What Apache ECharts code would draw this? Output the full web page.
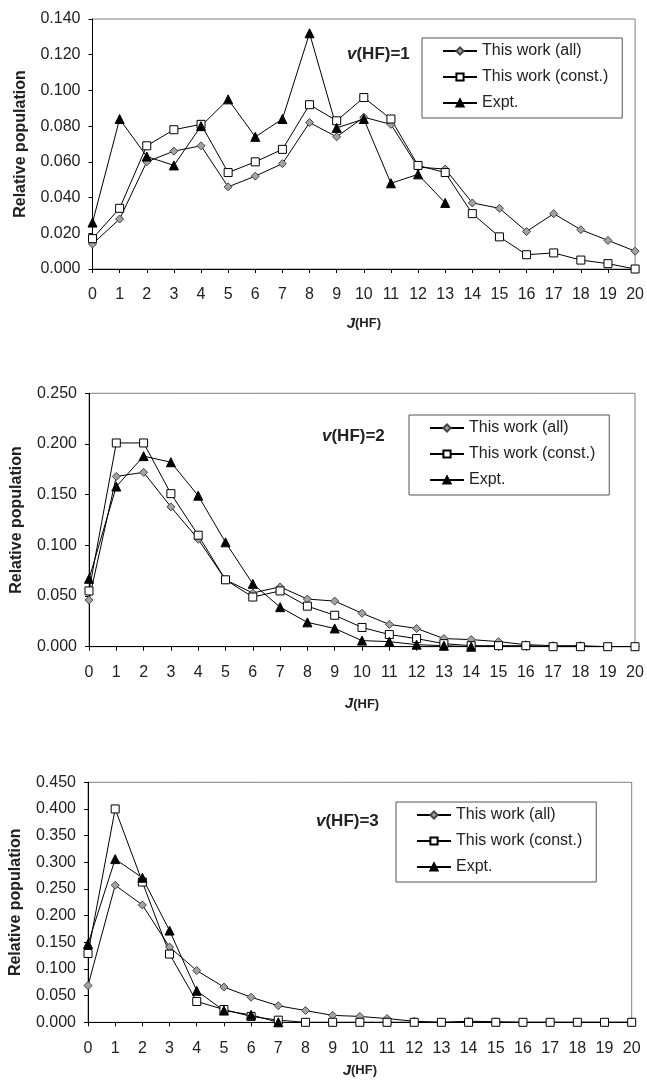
<!DOCTYPE html>
<html>
<head>
<meta charset="utf-8">
<script src="https://cdn.jsdelivr.net/npm/echarts@6/dist/echarts.min.js"></script>
<style>
  html, body { margin: 0; padding: 0; background: #fff; }
  #chart { width: 647px; height: 1082px; }
</style>
</head>
<body>
<div id="chart"></div>
<script>
// Rotational quantum number J(HF)
const jLevels = ['0','1','2','3','4','5','6','7','8','9','10','11','12','13','14','15','16','17','18','19','20'];

// Relative populations, v(HF)=1
const v1All   = [0.014, 0.028, 0.060, 0.066, 0.069, 0.046, 0.052, 0.059, 0.082, 0.074, 0.085, 0.081, 0.057, 0.056, 0.037, 0.034, 0.021, 0.031, 0.022, 0.016, 0.010];
const v1Const = [0.017, 0.034, 0.069, 0.078, 0.081, 0.054, 0.060, 0.067, 0.092, 0.083, 0.096, 0.084, 0.058, 0.054, 0.031, 0.018, 0.008, 0.009, 0.005, 0.003, 0.000];
const v1Expt  = [0.026, 0.084, 0.063, 0.058, 0.080, 0.095, 0.074, 0.084, 0.132, 0.079, 0.084, 0.048, 0.053, 0.037];

// Relative populations, v(HF)=2
const v2All   = [0.046, 0.168, 0.172, 0.138, 0.106, 0.066, 0.053, 0.059, 0.047, 0.045, 0.033, 0.022, 0.018, 0.008, 0.007, 0.005, 0.002, 0.001, 0.001, 0.000, 0.000];
const v2Const = [0.055, 0.201, 0.201, 0.151, 0.110, 0.066, 0.049, 0.055, 0.040, 0.031, 0.019, 0.012, 0.008, 0.003, 0.001, 0.001, 0.001, 0.000, 0.000, 0.000, 0.000];
const v2Expt  = [0.067, 0.158, 0.188, 0.182, 0.149, 0.103, 0.062, 0.039, 0.024, 0.018, 0.006, 0.005, 0.002, 0.001, 0.000];

// Relative populations, v(HF)=3
const v3All   = [0.069, 0.257, 0.220, 0.141, 0.097, 0.066, 0.047, 0.031, 0.022, 0.013, 0.011, 0.007, 0.002, 0.000, 0.002, 0.001, 0.000, 0.000, 0.000, 0.000, 0.000];
const v3Const = [0.129, 0.400, 0.263, 0.128, 0.039, 0.024, 0.011, 0.004, 0.000, 0.000, 0.000, 0.000, 0.000, 0.000, 0.000, 0.000, 0.000, 0.000, 0.000, 0.000, 0.000];
const v3Expt  = [0.147, 0.306, 0.271, 0.172, 0.059, 0.022, 0.014, 0.000];

const seriesNames = ['This work (all)', 'This work (const.)', 'Expt.'];
const panelLabels = ['1', '2', '3'];
const yMax = [0.14, 0.25, 0.45];
const yStep = [0.02, 0.05, 0.05];

const FONT = '"Liberation Sans", Arial, sans-serif';
const panelData = [[v1All, v1Const, v1Expt], [v2All, v2Const, v2Expt], [v3All, v3Const, v3Expt]];

// per-panel plot rectangles and decorations
const layout = [
  { left: 92.5, right: 9,    top: 19,    height: 250,   xNameGap: 47, legend: { left: 422, top: 38 },  label: { left: 347, top: 44 } },
  { left: 89,   right: 12,   top: 393.3, height: 253.4, xNameGap: 50, legend: { left: 409, top: 415 }, label: { left: 322, top: 426 } },
  { left: 85.7, right: 15.3, top: 782.3, height: 240,   xNameGap: 41, legend: { left: 396, top: 802 }, label: { left: 316, top: 811 } }
];

const styles = [
  { symbol: 'diamond',  symbolSize: 8, itemStyle: { color: '#a3a3a3', borderColor: '#444', borderWidth: 1 } },
  { symbol: 'rect',     symbolSize: 8, itemStyle: { color: '#ffffff', borderColor: '#000', borderWidth: 1 } },
  { symbol: 'triangle', symbolSize: 9, itemStyle: { color: '#000000', borderColor: '#000', borderWidth: 1 } }
];

const grid = [], xAxis = [], yAxis = [], series = [], legend = [], title = [];

layout.forEach((p, i) => {
  grid.push({ left: p.left, right: p.right, top: p.top, height: p.height,
              show: true, borderColor: '#7f7f7f', borderWidth: 1, backgroundColor: 'transparent' });

  xAxis.push({
    type: 'category', gridIndex: i, data: jLevels, boundaryGap: false,
    axisLine: { lineStyle: { color: '#000', width: 1 } },
    axisTick: { length: 4, alignWithLabel: true, interval: 0, lineStyle: { color: '#000' } },
    axisLabel: { interval: 0, margin: 18, fontFamily: FONT, fontSize: 16, color: '#222' },
    splitLine: { show: false },
    name: '{j|J}{h|(HF)}', nameLocation: 'middle', nameGap: p.xNameGap,
    nameTextStyle: {
      rich: {
        j: { fontFamily: FONT, fontSize: 15, fontWeight: 'bold', fontStyle: 'italic', color: '#222' },
        h: { fontFamily: FONT, fontSize: 13, fontWeight: 'bold', color: '#222' }
      }
    }
  });

  yAxis.push({
    type: 'value', gridIndex: i, min: 0, max: yMax[i], interval: yStep[i],
    axisLine: { show: true, lineStyle: { color: '#000', width: 1 } },
    axisTick: { show: true, length: 4, lineStyle: { color: '#000' } },
    axisLabel: { margin: 12, fontFamily: FONT, fontSize: 16, color: '#222',
                 formatter: v => v.toFixed(3) },
    splitLine: { show: false },
    name: 'Relative population', nameLocation: 'middle', nameGap: 64, nameRotate: 90,
    nameTextStyle: { fontFamily: FONT, fontSize: 16, fontWeight: 'bold', color: '#222' }
  });

  panelData[i].forEach((vals, k) => {
    series.push(Object.assign({
      name: seriesNames[k], type: 'line', xAxisIndex: i, yAxisIndex: i,
      data: vals, showAllSymbol: true, animation: false,
      lineStyle: { color: '#000', width: 1 },
      emphasis: { disabled: true }
    }, styles[k]));
  });

  legend.push({
    data: seriesNames, orient: 'vertical', left: p.legend.left, top: p.legend.top,
    padding: [5, 14, 7, 20], itemGap: 10, itemWidth: 34, itemHeight: 9,
    borderColor: '#555', borderWidth: 1, backgroundColor: '#fff',
    selectedMode: false,
    textStyle: { fontFamily: FONT, fontSize: 16, color: '#222', lineHeight: 16 }
  });

  title.push({
    text: '{v|v}{r|(HF)=' + panelLabels[i] + '}',
    left: p.label.left, top: p.label.top, padding: 0,
    textStyle: {
      rich: {
        v: { fontFamily: FONT, fontSize: 17, fontWeight: 'bold', fontStyle: 'italic', color: '#222', lineHeight: 20 },
        r: { fontFamily: FONT, fontSize: 17, fontWeight: 'bold', color: '#222', lineHeight: 20 }
      }
    }
  });
});

const chart = echarts.init(document.getElementById('chart'), null, { renderer: 'canvas' });
chart.setOption({ backgroundColor: '#fff', animation: false, grid, xAxis, yAxis, series, legend, title });
</script>
</body>
</html>
